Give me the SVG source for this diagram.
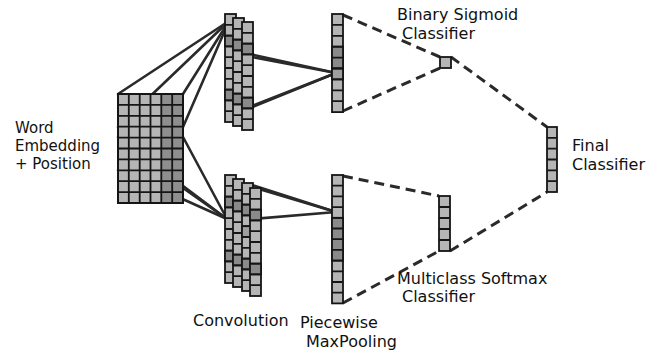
<svg xmlns="http://www.w3.org/2000/svg" width="667" height="354" viewBox="0 0 667 354">
<style>
.lt{fill:#b5b5b5;stroke:#151515;stroke-width:1.8}
.dk{fill:#8a8a8a;stroke:#151515;stroke-width:1.8}
.md{fill:#9e9e9e;stroke:#151515;stroke-width:1.8}
.gl{fill:none;stroke:#151515;stroke-width:1.8}
.sl{fill:none;stroke:#2a2a2a;stroke-width:2.6;stroke-linecap:round}
.ds{fill:none;stroke:#2a2a2a;stroke-width:3;stroke-dasharray:10 6}
text{font-family:"DejaVu Sans","Liberation Sans",sans-serif;font-size:16px;fill:#111}
</style>
<rect width="667" height="354" fill="#fff"/>
<g id="connectors">
<line class="sl" x1="118" y1="94" x2="229" y2="21"/>
<line class="sl" x1="118" y1="127" x2="229" y2="21"/>
<line class="sl" x1="183" y1="94" x2="229" y2="21"/>
<line class="sl" x1="183" y1="127" x2="229" y2="21"/>
<line class="sl" x1="118" y1="137" x2="227" y2="219"/>
<line class="sl" x1="118" y1="170" x2="227" y2="219"/>
<line class="sl" x1="183" y1="137" x2="227" y2="219"/>
<line class="sl" x1="183" y1="188" x2="227" y2="219"/>
<line class="sl" x1="245" y1="53" x2="336" y2="73"/>
<line class="sl" x1="252" y1="57" x2="336" y2="73"/>
<line class="sl" x1="245" y1="110" x2="336" y2="73"/>
<line class="sl" x1="252" y1="106" x2="336" y2="73"/>
<line class="sl" x1="252" y1="185" x2="336" y2="212"/>
<line class="sl" x1="259" y1="189" x2="336" y2="212"/>
<line class="sl" x1="252" y1="219" x2="336" y2="212"/>
<line class="ds" x1="343" y1="15" x2="440" y2="57"/>
<line class="ds" x1="343" y1="111" x2="440" y2="68"/>
<line class="ds" x1="451" y1="57" x2="547" y2="127"/>
<line class="ds" x1="343" y1="176" x2="439" y2="196"/>
<line class="ds" x1="343" y1="303" x2="439" y2="251"/>
<line class="ds" x1="450" y1="251" x2="547" y2="192"/>
</g>
<g id="embedding">
<rect x="118" y="94" width="65" height="109" fill="#b5b5b5"/>
<rect x="161.3" y="94" width="21.7" height="109" fill="#8e8e8e"/>
<rect x="118" y="94" width="65" height="109" fill="none" stroke="#151515" stroke-width="2"/>
<path class="gl" stroke-width="2" d="M128.8 94V203M139.7 94V203M150.5 94V203M161.3 94V203M172.2 94V203M118 104.9H183M118 115.8H183M118 126.7H183M118 137.6H183M118 148.5H183M118 159.4H183M118 170.3H183M118 181.2H183M118 192.1H183"/>
</g>
<g id="conv-top">
<rect class="lt" x="225" y="14" width="11" height="108"/>
<rect class="dk" x="225" y="35.6" width="11" height="10.8"/><rect class="dk" x="225" y="89.6" width="11" height="10.8"/>
<path class="gl" d="M225 24.8h11M225 35.6h11M225 46.4h11M225 57.2h11M225 68h11M225 78.8h11M225 89.6h11M225 100.4h11M225 111.2h11"/>
<rect class="lt" x="233" y="18" width="11" height="108"/>
<rect class="dk" x="233" y="39.6" width="11" height="10.8"/><rect class="dk" x="233" y="93.6" width="11" height="10.8"/>
<path class="gl" d="M233 28.8h11M233 39.6h11M233 50.4h11M233 61.2h11M233 72h11M233 82.8h11M233 93.6h11M233 104.4h11M233 115.2h11"/>
<rect class="lt" x="242" y="22" width="11" height="108"/>
<rect class="dk" x="242" y="43.6" width="11" height="10.8"/><rect class="dk" x="242" y="97.6" width="11" height="10.8"/>
<path class="gl" d="M242 32.8h11M242 43.6h11M242 54.4h11M242 65.2h11M242 76h11M242 86.8h11M242 97.6h11M242 108.4h11M242 119.2h11"/>
</g>
<g id="conv-bottom">
<rect class="lt" x="225" y="175" width="11" height="108"/>
<rect class="dk" x="225" y="196.6" width="11" height="10.8"/><rect class="dk" x="225" y="250.6" width="11" height="10.8"/>
<path class="gl" d="M225 185.8h11M225 196.6h11M225 207.4h11M225 218.2h11M225 229h11M225 239.8h11M225 250.6h11M225 261.4h11M225 272.2h11"/>
<rect class="lt" x="233" y="179" width="11" height="108"/>
<rect class="dk" x="233" y="200.6" width="11" height="10.8"/><rect class="dk" x="233" y="254.6" width="11" height="10.8"/>
<path class="gl" d="M233 189.8h11M233 200.6h11M233 211.4h11M233 222.2h11M233 233h11M233 243.8h11M233 254.6h11M233 265.4h11M233 276.2h11"/>
<rect class="lt" x="242" y="183" width="11" height="108"/>
<rect class="dk" x="242" y="204.6" width="11" height="10.8"/><rect class="md" x="242" y="226.2" width="11" height="10.8"/><rect class="dk" x="242" y="258.6" width="11" height="10.8"/>
<path class="gl" d="M242 193.8h11M242 204.6h11M242 215.4h11M242 226.2h11M242 237h11M242 247.8h11M242 258.6h11M242 269.4h11M242 280.2h11"/>
<rect class="lt" x="250" y="188" width="11" height="108"/>
<rect class="dk" x="250" y="209.6" width="11" height="10.8"/><rect class="dk" x="250" y="263.6" width="11" height="10.8"/>
<path class="gl" d="M250 198.8h11M250 209.6h11M250 220.4h11M250 231.2h11M250 242h11M250 252.8h11M250 263.6h11M250 274.4h11M250 285.2h11"/>
</g>
<g id="pool-top">
<rect class="lt" x="332" y="14" width="11" height="98.1"/>
<rect class="dk" x="332" y="46.7" width="11" height="21.8"/><rect class="md" x="332" y="68.5" width="11" height="10.9"/>
<path class="gl" d="M332 24.9h11M332 35.8h11M332 46.7h11M332 57.6h11M332 68.5h11M332 79.4h11M332 90.3h11M332 101.2h11"/>
</g>
<g id="pool-bottom">
<rect class="lt" x="332" y="175" width="11" height="128.4"/>
<rect class="dk" x="332" y="217.8" width="11" height="42.8"/>
<path class="gl" d="M332 185.7h11M332 196.4h11M332 207.1h11M332 217.8h11M332 228.5h11M332 239.2h11M332 249.9h11M332 260.6h11M332 271.3h11M332 282h11M332 292.7h11"/>
</g>
<g id="sigmoid">
<rect class="lt" x="440" y="57" width="11" height="11"/>
</g>
<g id="softmax">
<rect class="lt" x="439" y="196" width="11" height="55"/>
<path class="gl" d="M439 207h11M439 218h11M439 229h11M439 240h11"/>
</g>
<g id="final">
<rect class="lt" x="547" y="127" width="10" height="65"/>
<path class="gl" d="M547 137.8h10M547 148.7h10M547 159.5h10M547 170.3h10M547 181.2h10"/>
</g>
<g id="labels">
<text x="15" y="133" style="font-size:15px">Word</text>
<text x="15" y="150.5" style="font-size:15px">Embedding</text>
<text x="15" y="168.5" style="font-size:15px">+ Position</text>
<text x="193" y="326">Convolution</text>
<text x="300" y="328">Piecewise</text>
<text x="306" y="346.5">MaxPooling</text>
<text x="397" y="20">Binary Sigmoid</text>
<text x="402" y="39">Classifier</text>
<text x="572" y="151">Final</text>
<text x="572" y="170">Classifier</text>
<text x="397" y="283.5">Multiclass Softmax</text>
<text x="402" y="302">Classifier</text>
</g>
</svg>
